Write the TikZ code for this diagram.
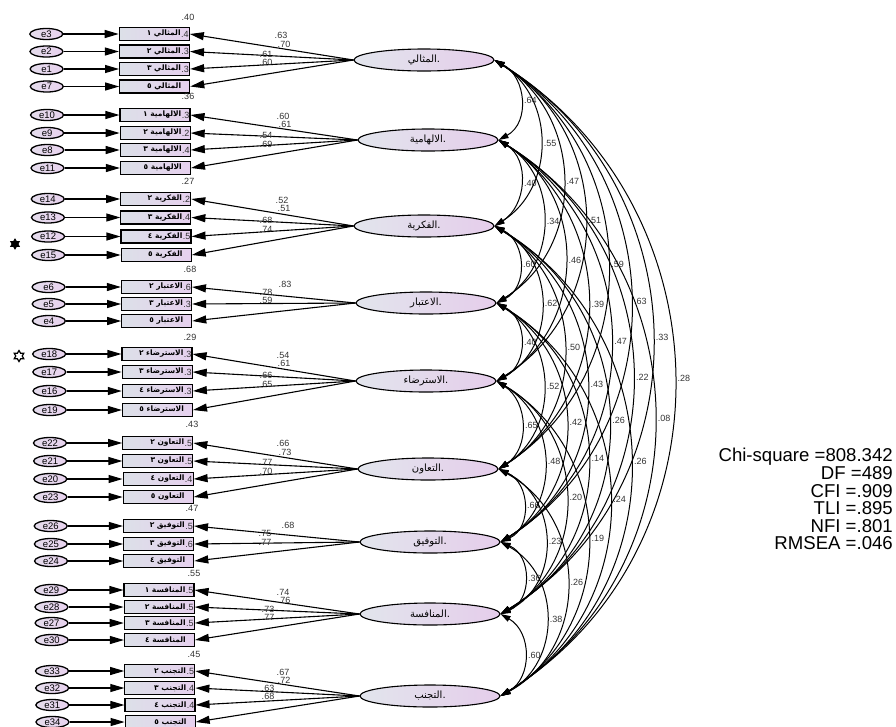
\documentclass[tikz,border=0pt]{standalone}
\usepackage{fontspec}
\setmainfont{Liberation Sans}
\newfontfamily\arabicfont[Script=Arabic]{DejaVu Sans}
\TeXXeTstate=1
\usetikzlibrary{arrows.meta,shapes.geometric,calc}
\definecolor{boxL}{HTML}{DCE0E8}
\definecolor{boxR}{HTML}{E6D0EE}
\definecolor{latL}{HTML}{E2E5EC}
\definecolor{latR}{HTML}{E5CDEB}
\definecolor{errL}{HTML}{E4DCEC}
\definecolor{errR}{HTML}{E8D2EE}
\definecolor{labc}{HTML}{333333}
\tikzset{
  errnode/.style={ellipse, draw, line width=1.3pt, minimum width=33pt, minimum height=11pt, inner sep=0pt, left color=errL, right color=errR, font=\fontsize{9.5}{9.5}\selectfont},
  obsnode/.style={rectangle, draw, line width=1.1pt, minimum width=70pt, minimum height=13pt, inner sep=0pt, left color=boxL, right color=boxR},
  obstext/.style={anchor=east, inner sep=0pt, font=\fontsize{7.5}{7.5}\selectfont\bfseries},
  obsnum/.style={anchor=east, inner sep=0pt, font=\fontsize{9}{9}\selectfont, text=labc},
  latnode/.style={ellipse, draw, line width=1.1pt, minimum width=140pt, minimum height=22pt, inner sep=0pt, left color=latL, right color=latR, font=\fontsize{10}{10}\selectfont},
  loadarrow/.style={-{Triangle[length=14pt,width=8pt]}, line width=1.1pt},
  covline/.style={{Triangle[length=10pt,width=6pt]}-{Triangle[length=10pt,width=6pt]}, line width=1pt},
  covlab/.style={inner sep=0pt, font=\fontsize{9}{9}\selectfont, text=labc},
  lab/.style={inner sep=0pt, font=\fontsize{9}{9}\selectfont, text=labc},
  fitlab/.style={anchor=base east, inner sep=0pt, font=\fontsize{18.6}{18.6}\selectfont}
}
\newcommand\semitem[6]{%
  \pgfmathsetmacro\semex{46+0.009*#3}%
  \pgfmathsetmacro\sembx{154+0.0085*#3}%
  \node[errnode] (#1) at (\semex,#3) {#1};
  \node[obsnode] (#2) at (\sembx,#3) {};
  \node[obstext] (#2t) at ([xshift=-9pt]#2.east) {\arabicfont #4};
  \node[obsnum] (#2n) at ([xshift=-1pt]#2.east) {#5};
  \draw[loadarrow] (#1) -- (#2);
  \draw[loadarrow] (#6.west) -- (#2.east);
}
\newcommand\semcov[7]{%
  \pgfmathsetmacro\semL{#4-#3}%
  \pgfmathsetmacro\semS{2+21.8*#5}%
  \pgfmathsetmacro\semPhi{2*atan(2*\semS/\semL)}%
  \pgfmathsetmacro\semC{4*\semS/(3*sin(\semPhi))}%
  \pgfmathsetmacro\semA{90-\semPhi}%
  \pgfmathsetmacro\semB{\semPhi-90}%
  \draw[covline] (#1.east) .. controls +(\semA:\semC) and +(\semB:\semC) .. (#2.east)
     node[covlab, pos=0.5, xshift=10pt] (#7) {#6};
}
\begin{document}
\begin{tikzpicture}[x=1pt,y=-1pt]
\useasboundingbox (0,0) rectangle (896,726);
% latent variables
\node[latnode] (L1) at (424,60) {\arabicfont\beginR المثالي\endR.};
\node[latnode] (L2) at (428,140) {\arabicfont\beginR الالهامية\endR.};
\node[latnode] (L3) at (424,226) {\arabicfont\beginR الفكرية\endR.};
\node[latnode] (L4) at (426,303) {\arabicfont\beginR الاعتبار\endR.};
\node[latnode] (L5) at (426,381) {\arabicfont\beginR الاسترضاء\endR.};
\node[latnode] (L6) at (428,469) {\arabicfont\beginR التعاون\endR.};
\node[latnode] (L7) at (430,542) {\arabicfont\beginR التوفيق\endR.};
\node[latnode] (L8) at (430,614) {\arabicfont\beginR المنافسة\endR.};
\node[latnode] (L9) at (430,696) {\arabicfont\beginR التجنب\endR.};
% observed items
\semitem{e3}{b3}{34}{\beginR المثالي ١\endR}{.4}{L1}
\semitem{e2}{b2}{51.5}{\beginR المثالي ٢\endR}{.3}{L1}
\semitem{e1}{b1}{69}{\beginR المثالي ٣\endR}{.3}{L1}
\semitem{e7}{b7}{86.5}{\beginR المثالي ٥\endR}{}{L1}
\semitem{e10}{b10}{115}{\beginR الالهامية ١\endR}{.3}{L2}
\semitem{e9}{b9}{133}{\beginR الالهامية ٢\endR}{.2}{L2}
\semitem{e8}{b8}{150}{\beginR الالهامية ٣\endR}{.4}{L2}
\semitem{e11}{b11}{168}{\beginR الالهامية ٥\endR}{}{L2}
\semitem{e14}{b14}{199}{\beginR الفكرية ٢\endR}{.2}{L3}
\semitem{e13}{b13}{217.5}{\beginR الفكرية ٣\endR}{.4}{L3}
\semitem{e12}{b12}{236.5}{\beginR الفكرية ٤\endR}{.5}{L3}
\semitem{e15}{b15}{255}{\beginR الفكرية ٥\endR}{}{L3}
\semitem{e6}{b6}{287}{\beginR الاعتبار ٢\endR}{.6}{L4}
\semitem{e5}{b5}{304}{\beginR الاعتبار ٣\endR}{.3}{L4}
\semitem{e4}{b4}{321}{\beginR الاعتبار ٥\endR}{}{L4}
\semitem{e18}{b18}{354}{\beginR الاسترضاء ٢\endR}{.3}{L5}
\semitem{e17}{b17}{372}{\beginR الاسترضاء ٣\endR}{.3}{L5}
\semitem{e16}{b16}{391}{\beginR الاسترضاء ٤\endR}{.3}{L5}
\semitem{e19}{b19}{410}{\beginR الاسترضاء ٥\endR}{}{L5}
\semitem{e22}{b22}{443}{\beginR التعاون ٢\endR}{.5}{L6}
\semitem{e21}{b21}{461}{\beginR التعاون ٣\endR}{.5}{L6}
\semitem{e20}{b20}{479}{\beginR التعاون ٤\endR}{.4}{L6}
\semitem{e23}{b23}{497}{\beginR التعاون ٥\endR}{}{L6}
\semitem{e26}{b26}{526}{\beginR التوفيق ٢\endR}{.5}{L7}
\semitem{e25}{b25}{544}{\beginR التوفيق ٣\endR}{.6}{L7}
\semitem{e24}{b24}{561}{\beginR التوفيق ٤\endR}{}{L7}
\semitem{e29}{b29}{590}{\beginR المنافسة ١\endR}{.5}{L8}
\semitem{e28}{b28}{607}{\beginR المنافسة ٢\endR}{.5}{L8}
\semitem{e27}{b27}{623}{\beginR المنافسة ٣\endR}{.5}{L8}
\semitem{e30}{b30}{640}{\beginR المنافسة ٤\endR}{}{L8}
\semitem{e33}{b33}{671}{\beginR التجنب ٢\endR}{.5}{L9}
\semitem{e32}{b32}{688}{\beginR التجنب ٣\endR}{.4}{L9}
\semitem{e31}{b31}{705}{\beginR التجنب ٤\endR}{.4}{L9}
\semitem{e34}{b34}{722}{\beginR التجنب ٥\endR}{}{L9}
% markers
\node[star, star points=6, star point ratio=1.7, draw, fill=black, line width=0.8pt, minimum size=10pt, inner sep=0pt] (m12) at (15,244) {};
\node[star, star points=6, star point ratio=1.7, draw, line width=1.2pt, minimum size=11pt, inner sep=0pt] (m18) at (19,356) {};
% squared multiple correlations
\node[lab] (r1) at (188,17) {.40};
\node[lab] (r2) at (188,96) {.36};
\node[lab] (r3) at (188,181) {.27};
\node[lab] (r4) at (190,269) {.68};
\node[lab] (r5) at (190,337) {.29};
\node[lab] (r6) at (192,424) {.43};
\node[lab] (r7) at (192,508) {.47};
\node[lab] (r8) at (194,573) {.55};
\node[lab] (r9) at (194,654) {.45};
% loadings
\node[lab] (w3) at (281,35) {.63};
\node[lab] (w2) at (284,44) {.70};
\node[lab] (w1) at (266,54) {.61};
\node[lab] (w7) at (266,62) {.60};
\node[lab] (w10) at (283,116) {.60};
\node[lab] (w9) at (285,124) {.61};
\node[lab] (w8) at (266,135) {.54};
\node[lab] (w11) at (266,144) {.69};
\node[lab] (w14) at (282,200) {.52};
\node[lab] (w13) at (284,208) {.51};
\node[lab] (w12) at (266,220) {.68};
\node[lab] (w15) at (266,229) {.74};
\node[lab] (w6) at (285,284) {.83};
\node[lab] (w5) at (266,292) {.78};
\node[lab] (w4) at (266,300) {.59};
\node[lab] (w18) at (283,355) {.54};
\node[lab] (w17) at (284,363) {.61};
\node[lab] (w16) at (266,375) {.66};
\node[lab] (w19) at (266,384) {.65};
\node[lab] (w22) at (283,443) {.66};
\node[lab] (w21) at (285,452) {.73};
\node[lab] (w20) at (266,462) {.77};
\node[lab] (w23) at (266,471) {.70};
\node[lab] (w26) at (288,525) {.68};
\node[lab] (w25) at (265,533) {.75};
\node[lab] (w24) at (265,542) {.77};
\node[lab] (w29) at (283,592) {.74};
\node[lab] (w28) at (284,600) {.76};
\node[lab] (w27) at (268,609) {.73};
\node[lab] (w30) at (268,617) {.77};
\node[lab] (w33) at (283,672) {.67};
\node[lab] (w32) at (284,680) {.72};
\node[lab] (w31) at (268,688) {.63};
\node[lab] (w34) at (268,696) {.68};
% covariances
\semcov{L1}{L2}{60}{140}{1}{.64}{c12}
\semcov{L2}{L3}{140}{226}{1}{.40}{c23}
\semcov{L3}{L4}{226}{303}{1}{.60}{c34}
\semcov{L4}{L5}{303}{381}{1}{.40}{c45}
\semcov{L5}{L6}{381}{469}{1}{.65}{c56}
\semcov{L6}{L7}{469}{542}{1}{.66}{c67}
\semcov{L7}{L8}{542}{614}{1}{.36}{c78}
\semcov{L8}{L9}{614}{696}{1}{.60}{c89}
\semcov{L1}{L3}{60}{226}{2}{.55}{c13}
\semcov{L2}{L4}{140}{303}{2}{.34}{c24}
\semcov{L3}{L5}{226}{381}{2}{.62}{c35}
\semcov{L4}{L6}{303}{469}{2}{.52}{c46}
\semcov{L5}{L7}{381}{542}{2}{.48}{c57}
\semcov{L6}{L8}{469}{614}{2}{.23}{c68}
\semcov{L7}{L9}{542}{696}{2}{.38}{c79}
\semcov{L1}{L4}{60}{303}{3}{.47}{c14}
\semcov{L2}{L5}{140}{381}{3}{.46}{c25}
\semcov{L3}{L6}{226}{469}{3}{.50}{c36}
\semcov{L4}{L7}{303}{542}{3}{.42}{c47}
\semcov{L5}{L8}{381}{614}{3}{.20}{c58}
\semcov{L6}{L9}{469}{696}{3}{.26}{c69}
\semcov{L1}{L5}{60}{381}{4}{.51}{c15}
\semcov{L2}{L6}{140}{469}{4}{.39}{c26}
\semcov{L3}{L7}{226}{542}{4}{.43}{c37}
\semcov{L4}{L8}{303}{614}{4}{.14}{c48}
\semcov{L5}{L9}{381}{696}{4}{.19}{c59}
\semcov{L1}{L6}{60}{469}{5}{.59}{c16}
\semcov{L2}{L7}{140}{542}{5}{.47}{c27}
\semcov{L3}{L8}{226}{614}{5}{.26}{c38}
\semcov{L4}{L9}{303}{696}{5}{.24}{c49}
\semcov{L1}{L7}{60}{542}{6}{.63}{c17}
\semcov{L2}{L8}{140}{614}{6}{.22}{c28}
\semcov{L3}{L9}{226}{696}{6}{.26}{c39}
\semcov{L1}{L8}{60}{614}{7}{.33}{c18}
\semcov{L2}{L9}{140}{696}{7}{.08}{c29}
\semcov{L1}{L9}{60}{696}{8}{.28}{c19}
% fit statistics
\node[fitlab] (f1) at (893,461.5) {Chi-square =808.342};
\node[fitlab] (f2) at (893,479) {DF =489};
\node[fitlab] (f3) at (893,497) {CFI =.909};
\node[fitlab] (f4) at (893,514.5) {TLI =.895};
\node[fitlab] (f5) at (893,532) {NFI =.801};
\node[fitlab] (f6) at (893,549.5) {RMSEA =.046};
\end{tikzpicture}
\end{document}
